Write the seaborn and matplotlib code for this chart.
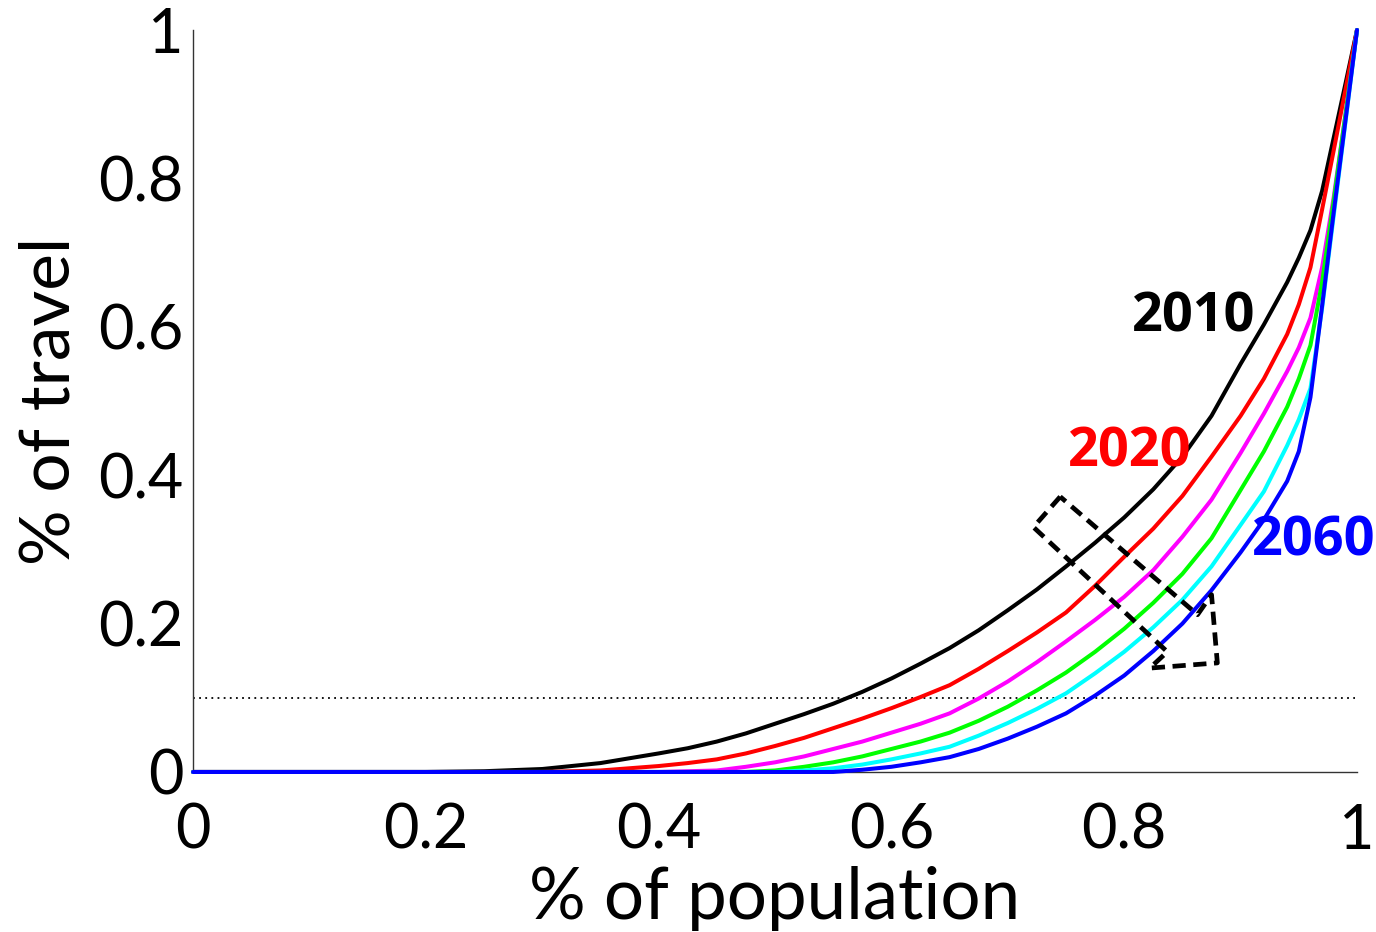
import matplotlib
matplotlib.use("Agg")
import matplotlib.pyplot as plt
import numpy as np
import pandas as pd
import seaborn as sns

# Cumulative share of population (x) and cumulative share of travel (y)
population_share = [0, 0.2, 0.25, 0.3, 0.35, 0.4, 0.425, 0.45, 0.475, 0.5,
                    0.525, 0.55, 0.575, 0.6, 0.625, 0.65, 0.675, 0.7, 0.725,
                    0.75, 0.775, 0.8, 0.825, 0.85, 0.875, 0.9, 0.92, 0.94,
                    0.95, 0.96, 0.97, 0.98, 0.99, 1.0]

travel_2010 = [0, 0, 0.001, 0.004, 0.012, 0.025, 0.032, 0.041, 0.052, 0.065,
               0.078, 0.092, 0.108, 0.126, 0.146, 0.167, 0.191, 0.218, 0.246,
               0.277, 0.309, 0.343, 0.381, 0.425, 0.480, 0.550, 0.603, 0.660,
               0.693, 0.730, 0.783, 0.855, 0.927, 1.0]
travel_2020 = [0, 0, 0, 0, 0.002, 0.008, 0.012, 0.017, 0.025, 0.035,
               0.046, 0.059, 0.072, 0.086, 0.101, 0.117, 0.139, 0.163, 0.188,
               0.215, 0.251, 0.290, 0.328, 0.372, 0.425, 0.480, 0.530, 0.590,
               0.630, 0.680, 0.758, 0.838, 0.919, 1.0]
travel_2030 = [0, 0, 0, 0, 0, 0, 0.001, 0.002, 0.007, 0.013,
               0.021, 0.031, 0.041, 0.053, 0.065, 0.079, 0.099, 0.122, 0.148,
               0.176, 0.205, 0.236, 0.272, 0.317, 0.367, 0.430, 0.483, 0.540,
               0.572, 0.612, 0.680, 0.775, 0.885, 1.0]
travel_2040 = [0, 0, 0, 0, 0, 0, 0, 0, 0, 0.002,
               0.007, 0.013, 0.021, 0.031, 0.041, 0.053, 0.069, 0.088, 0.110,
               0.134, 0.162, 0.193, 0.228, 0.267, 0.315, 0.380, 0.432, 0.492,
               0.530, 0.575, 0.660, 0.770, 0.885, 1.0]
travel_2050 = [0, 0, 0, 0, 0, 0, 0, 0, 0, 0,
               0.002, 0.005, 0.010, 0.017, 0.025, 0.034, 0.049, 0.066, 0.085,
               0.106, 0.133, 0.162, 0.195, 0.232, 0.277, 0.333, 0.378, 0.440,
               0.475, 0.517, 0.625, 0.750, 0.875, 1.0]
travel_2060 = [0, 0, 0, 0, 0, 0, 0, 0, 0, 0,
               0, 0, 0.003, 0.007, 0.013, 0.020, 0.031, 0.045, 0.061,
               0.079, 0.103, 0.130, 0.163, 0.200, 0.245, 0.296, 0.340, 0.392,
               0.432, 0.505, 0.628, 0.755, 0.877, 1.0]

years = ["2010", "2020", "2030", "2040", "2050", "2060"]
series = [travel_2010, travel_2020, travel_2030, travel_2040, travel_2050, travel_2060]
colors = ["#000000", "#ff0000", "#ff00ff", "#00ff00", "#00ffff", "#0000ff"]

threshold = 0.1

tick_values = [0, 0.2, 0.4, 0.6, 0.8, 1]
tick_labels = ["0", "0.2", "0.4", "0.6", "0.8", "1"]

# Year labels placed next to their curves
label_years = ["2010", "2020", "2060"]
label_x = [0.860, 0.805, 0.963]
label_y = [0.612, 0.430, 0.311]
label_colors = ["#000000", "#ff0000", "#0000ff"]

# Outline of the block arrow showing the direction of change over time
arrow_x = [0.745, 0.722, 0.837, 0.822, 0.880, 0.875, 0.863, 0.745]
arrow_y = [0.371, 0.330, 0.162, 0.140, 0.147, 0.239, 0.212, 0.371]

df = pd.DataFrame({
    "population": np.tile(population_share, len(years)),
    "travel": np.concatenate(series),
    "year": np.repeat(years, len(population_share)),
})

sns.set_theme(style="white")
plt.rcParams["font.family"] = ["Lato", "DejaVu Sans"]

fig = plt.figure(figsize=(13.76, 9.32), dpi=100)
ax = fig.add_axes([0.1403, 0.1717, 0.8459, 0.7961])

sns.lineplot(data=df, x="population", y="travel", hue="year",
             palette=dict(zip(years, colors)), hue_order=years,
             estimator=None, sort=False, linewidth=2.9, legend=False,
             ax=ax, clip_on=False, zorder=3)
for line in ax.get_lines():
    line.set_solid_joinstyle("round")

ax.axhline(threshold, xmin=0, xmax=0.998, color="black", linewidth=1.3,
           linestyle=(0, (1, 2.4)), zorder=2)

ax.plot(arrow_x, arrow_y, color="black", linewidth=3.4,
        linestyle=(0, (2.8, 1.6)), zorder=4, clip_on=False)

for txt, lx, ly, c in zip(label_years, label_x, label_y, label_colors):
    ax.text(lx, ly, txt, color=c, fontsize=39, fontweight="bold",
            family=["Open Sans", "DejaVu Sans"], ha="center", va="center",
            zorder=5)

ax.set_xlim(0, 1)
ax.set_ylim(0, 1)
ax.set_xticks(tick_values)
ax.set_xticklabels(tick_labels)
ax.set_yticks(tick_values)
ax.set_yticklabels(tick_labels)

for side in ["top", "right"]:
    ax.spines[side].set_visible(False)
for side in ["left", "bottom"]:
    ax.spines[side].set_color("#333333")
    ax.spines[side].set_linewidth(1.0)

ax.tick_params(axis="both", direction="in", length=7.5, width=1.0,
               color="#333333", labelcolor="black", labelsize=44)
ax.tick_params(axis="x", pad=22)
ax.tick_params(axis="y", pad=7)

ax.set_xlabel("% of population", fontsize=51, color="black", labelpad=5)
ax.set_ylabel("% of travel", fontsize=50, color="black", labelpad=12)

fig.savefig("out.png", dpi=100, facecolor="white")
